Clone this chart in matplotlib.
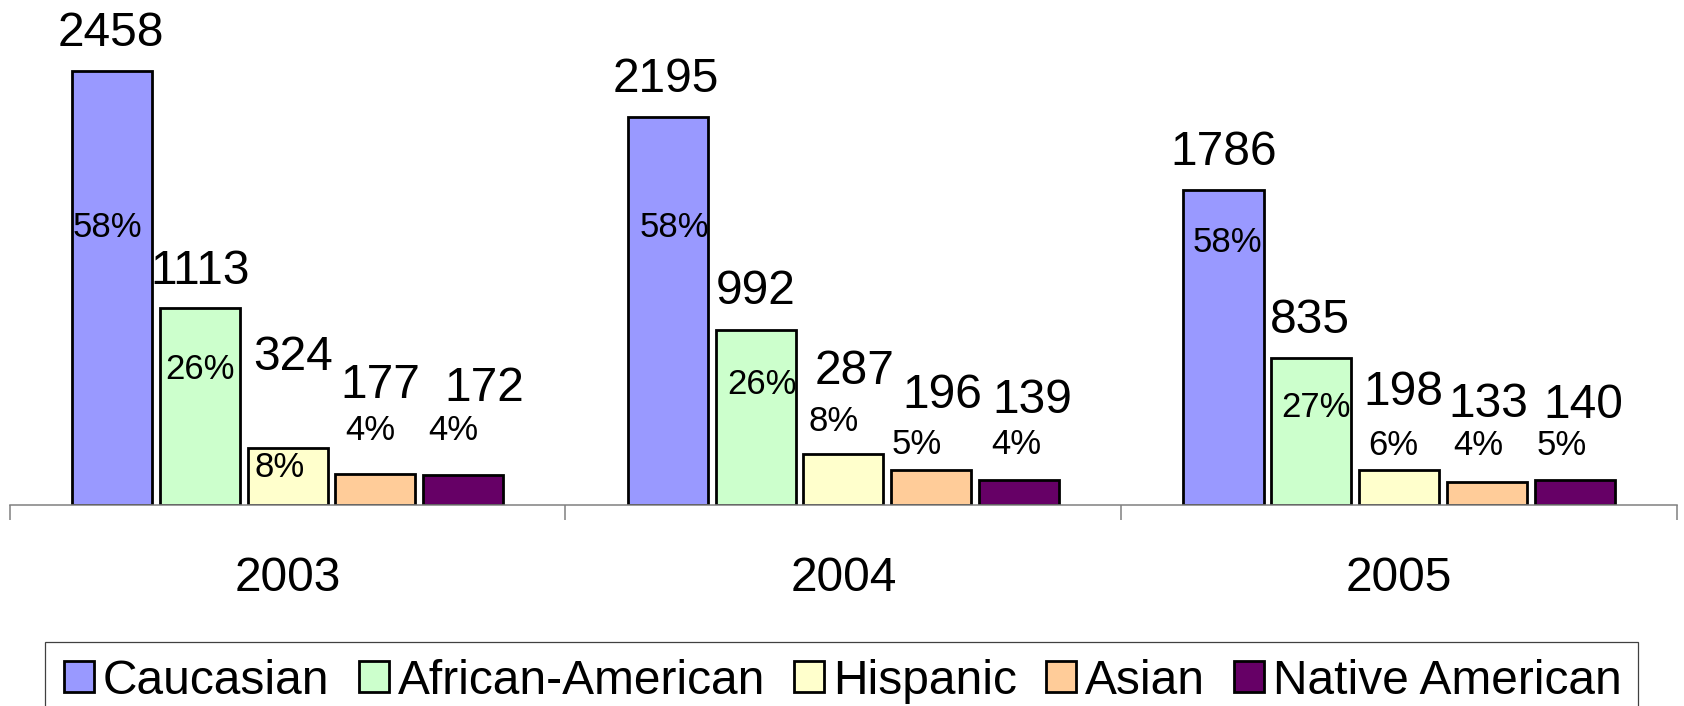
import matplotlib
matplotlib.use("Agg")
import matplotlib.pyplot as plt
from matplotlib.patches import Patch, Rectangle

plt.rcParams['font.family'] = ['Liberation Sans', 'DejaVu Sans']

# ---- data ----
years = ["2003", "2004", "2005"]
groups = ["Caucasian", "African-American", "Hispanic", "Asian", "Native American"]
caucasian = [2458, 2195, 1786]
african_american = [1113, 992, 835]
hispanic = [324, 287, 198]
asian = [177, 196, 133]
native_american = [172, 139, 140]
pct_caucasian = [58, 58, 58]
pct_african_american = [26, 26, 27]
pct_hispanic = [8, 8, 6]
pct_asian = [4, 5, 4]
pct_native_american = [4, 4, 5]

series = [caucasian, african_american, hispanic, asian, native_american]
pcts = [pct_caucasian, pct_african_american, pct_hispanic, pct_asian, pct_native_american]
colors = ["#9999FF", "#CCFFCC", "#FFFFCC", "#FFCC99", "#660066"]

# ---- label placement (pixel offsets of text centre from bar top), per year then series ----
val_off = [
    [(-1, 42), (0, 42), (6, 95), (5, 93), (21, 91)],
    [(-2, 43), (0, 43), (11, 87), (11, 80), (13, 85)],
    [(0, 42), (-1, 42), (4, 82), (1, 82), (9, 79)],
]
pct_off = [
    [(-5, -154), (0, -58), (-8, -17), (-5, 46), (-10, 47)],
    [(7, -107), (6, -52), (-10, 36), (-14, 29), (-3, 39)],
    [(4, -50), (5, -47), (-6, 27), (-9, 39), (-13, 38)],
]

W, H = 1684, 706
fig = plt.figure(figsize=(W / 100, H / 100), dpi=100)
base_px = 505
px_per_unit = 0.17657
ax = fig.add_axes([9.7 / W, 1 - base_px / H, (1677 - 9.7) / W, base_px / H])
ax.set_xlim(-0.5, 2.5)
ax.set_ylim(0, base_px / px_per_unit)

step = 0.158
width = 0.144
big_fs = 34.5
pct_fs = 25
cap = 0.716
em_big = big_fs * 100 / 72
em_pct = pct_fs * 100 / 72

for j, (vals, col) in enumerate(zip(series, colors)):
    xs = [i + (j - 2) * step for i in range(len(years))]
    ax.bar(xs, vals, width=width, color=col, edgecolor="black", linewidth=2.0, zorder=2)
    for i, x in enumerate(xs):
        dx, dy = val_off[i][j]
        ax.annotate(str(vals[i]), xy=(x, vals[i]), xytext=(dx, dy - cap * em_big / 2),
                    textcoords="offset pixels", ha="center", va="baseline",
                    fontsize=big_fs, color="black", zorder=3)
        dx, dy = pct_off[i][j]
        ax.annotate(f"{pcts[j][i]}%", xy=(x, vals[i]), xytext=(dx, dy - cap * em_pct / 2),
                    textcoords="offset pixels", ha="center", va="baseline",
                    fontsize=pct_fs, color="black", zorder=3)

for s in ["top", "left", "right"]:
    ax.spines[s].set_visible(False)
ax.spines["bottom"].set_color("#808080")
ax.spines["bottom"].set_linewidth(1.1)
ax.set_yticks([])
ax.set_xticks([-0.5, 0.5, 1.5, 2.5])
ax.set_xticklabels([])
ax.tick_params(axis="x", direction="out", length=10.8, width=1.1, color="#808080")

for i, yr in enumerate(years):
    ax.annotate(yr, xy=(i, 0), xycoords=("data", "axes fraction"),
                xytext=(0, -69 - cap * em_big / 2), textcoords="offset pixels",
                ha="center", va="baseline", fontsize=big_fs, color="black")

handles = [Patch(facecolor=c, edgecolor="black", linewidth=2.0) for c in colors]
fig.legend(handles, groups, loc="center left", bbox_to_anchor=(64 / W, 1 - 681 / H),
           ncol=5, frameon=False, fontsize=big_fs,
           handlelength=30 / em_big, handleheight=30 / em_big,
           handletextpad=9 / em_big, columnspacing=29 / em_big, borderpad=0, borderaxespad=0)

fig.add_artist(Rectangle((45 / W, -0.2), (1637.5 - 45) / W, 0.2 + (H - 642) / H,
                         transform=fig.transFigure, fill=False, edgecolor="#404040", linewidth=0.9))

fig.savefig("out.png", dpi=100)
